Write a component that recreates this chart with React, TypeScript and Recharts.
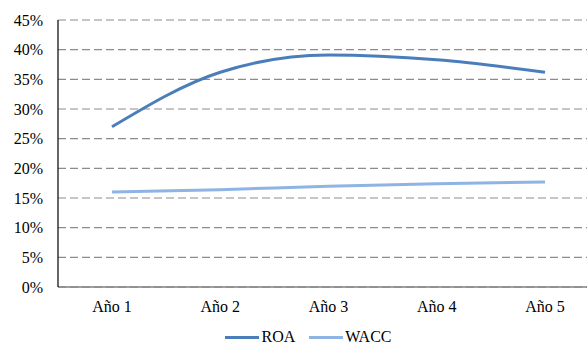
import React from 'react';
import { LineChart, Line, XAxis, YAxis, CartesianGrid, Legend } from 'recharts';

const years = ['Año 1', 'Año 2', 'Año 3', 'Año 4', 'Año 5'];
const roa = [27.0, 36.2, 39.1, 38.3, 36.2];
const wacc = [16.0, 16.4, 17.0, 17.4, 17.7];
const yTicks = [0, 5, 10, 15, 20, 25, 30, 35, 40, 45];

const data = years.map((year, i) => ({ year, ROA: roa[i], WACC: wacc[i] }));

const FONT = '"Liberation Serif", "Times New Roman", serif';

const LegendContent = () => (
    <div style={{ display: 'flex', justifyContent: 'center', paddingLeft: 18, fontFamily: FONT, fontSize: 16, color: '#000', lineHeight: '16px', marginTop: 12 }}>
        <span style={{ display: 'flex', alignItems: 'center', marginRight: 14 }}>
            <span style={{ width: 34, height: 3, background: '#4a7ebb', marginRight: 2 }} />ROA
        </span>
        <span style={{ display: 'flex', alignItems: 'center' }}>
            <span style={{ width: 34, height: 3, background: '#8eb4e3', marginRight: 2 }} />WACC
        </span>
    </div>
);

const App: React.FC = () => {
    return (
        <div style={{ position: 'fixed', left: 0, top: 0, width: 587, height: 346, overflow: 'hidden', background: '#fff', fontFamily: FONT }}>
            <LineChart width={600} height={346} data={data} margin={{ top: 20, right: 1, left: 0, bottom: 0 }}>
                <CartesianGrid vertical={false} stroke="#8c8c8c" strokeDasharray="8 4" strokeWidth={1.2} />
                <XAxis
                    dataKey="year"
                    height={30}
                    padding={{ left: 54, right: 54 }}
                    tickLine={false}
                    tickMargin={8}
                    stroke="#7f7f7f"
                    strokeWidth={1.5}
                    tick={{ fill: '#000', fontSize: 16, fontFamily: FONT }}
                />
                <YAxis
                    width={58}
                    domain={[0, 45]}
                    ticks={yTicks}
                    tickFormatter={(v: number) => `${v}%`}
                    tickLine={false}
                    tickMargin={9}
                    stroke="#000"
                    strokeWidth={1.2}
                    tick={{ fill: '#000', fontSize: 16, fontFamily: FONT }}
                />
                <Legend verticalAlign="bottom" height={29} content={<LegendContent />} />
                <Line type="monotone" dataKey="ROA" stroke="#4a7ebb" strokeWidth={3} dot={false} isAnimationActive={false} />
                <Line type="monotone" dataKey="WACC" stroke="#8eb4e3" strokeWidth={3} dot={false} isAnimationActive={false} />
            </LineChart>
        </div>
    );
};

export default App;
